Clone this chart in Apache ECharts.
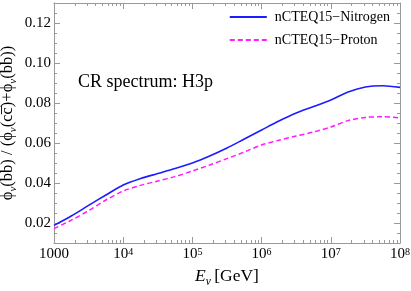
<!DOCTYPE html>
<html>
<head>
<meta charset="utf-8">
<script src="https://cdn.jsdelivr.net/npm/echarts@6/dist/echarts.min.js"></script>
<style>html,body{margin:0;padding:0;background:#fff}#c{width:411px;height:291px}</style>
</head>
<body>
<div id="c"></div>
<script>
// Neutrino energy E_nu [GeV] (half-decade sampling)
const energies = [1e3, 1.778e3, 3.162e3, 5.623e3, 1e4, 1.778e4, 3.162e4, 5.623e4, 1e5, 1.778e5, 3.162e5, 5.623e5,
  1e6, 1.778e6, 3.162e6, 5.623e6, 1e7, 1.778e7, 3.162e7, 5.623e7, 1e8];
const nitrogen = [0.0188, 0.0235, 0.0288, 0.0340, 0.0390, 0.0422, 0.0447, 0.0472, 0.0500, 0.0535, 0.0575, 0.0620,
  0.0665, 0.0710, 0.0750, 0.0782, 0.0815, 0.0855, 0.0880, 0.0886, 0.0878];
const proton = [0.0172, 0.0214, 0.0262, 0.0315, 0.0360, 0.0388, 0.0410, 0.0432, 0.0460, 0.0490, 0.0522, 0.0555,
  0.0590, 0.0614, 0.0635, 0.0655, 0.0680, 0.0712, 0.0728, 0.0731, 0.0726];
const xMajorTicks = [1e3, 1e4, 1e5, 1e6, 1e7, 1e8];
const xTickLabels = ['1000', '10{sup|4}', '10{sup|5}', '10{sup|6}', '10{sup|7}', '10{sup|8}'];
const yMajorTicks = [0.02, 0.04, 0.06, 0.08, 0.10, 0.12];
const yTickLabels = ['0.02', '0.04', '0.06', '0.08', '0.10', '0.12'];
const seriesNames = ['nCTEQ15\u2212Nitrogen', 'nCTEQ15\u2212Proton'];
const annotation = 'CR spectrum: H3p';

const xMinorTicks = [];
for (let d = 1e3; d < 1e8; d *= 10) for (let k = 2; k <= 9; k++) xMinorTicks.push(d * k);
const yMinorTicks = [];
for (let i = 3; i <= 25; i++) { const v = +(i * 0.005).toFixed(3); if (!yMajorTicks.some(m => Math.abs(m - v) < 1e-9)) yMinorTicks.push(v); }

const FONT = '"Liberation Serif", "DejaVu Serif", serif';
const FRAME = '#999999';

function xAx(grid, pos, ticks, len, showLine, showLabel) {
  return {
    gridIndex: grid, type: 'log', logBase: 10, min: 1e3, max: 1e8, position: pos,
    axisLine: { show: showLine, onZero: false, lineStyle: { color: FRAME, width: 1 } },
    axisTick: { show: true, inside: true, length: len, customValues: ticks, lineStyle: { color: FRAME } },
    axisLabel: showLabel ? {
      show: true, customValues: xMajorTicks, margin: 4, color: '#000', fontFamily: FONT, fontSize: 15,
      formatter: v => xTickLabels[xMajorTicks.findIndex(m => Math.abs(Math.log10(m) - Math.log10(v)) < 1e-6)],
      rich: { sup: { fontSize: 10, fontFamily: FONT, color: '#000', verticalAlign: 'top', lineHeight: 10, padding: [0, 0, 6, 0] } }
    } : { show: false },
    splitLine: { show: false }
  };
}
function yAx(grid, pos, ticks, len, showLine, showLabel) {
  return {
    gridIndex: grid, type: 'value', min: 0.01, max: 0.13, position: pos,
    axisLine: { show: showLine, onZero: false, lineStyle: { color: FRAME, width: 1 } },
    axisTick: { show: true, inside: true, length: len, customValues: ticks, lineStyle: { color: FRAME } },
    axisLabel: showLabel ? {
      show: true, customValues: yMajorTicks, margin: 3, color: '#000', fontFamily: FONT, fontSize: 15,
      formatter: v => yTickLabels[yMajorTicks.findIndex(m => Math.abs(m - v) < 1e-9)]
    } : { show: false },
    splitLine: { show: false }
  };
}

const xAxes = [xAx(0, 'bottom', xMajorTicks, 6, true, true), xAx(0, 'top', xMajorTicks, 6, true, false),
  xAx(1, 'bottom', xMinorTicks, 3, false, false), xAx(1, 'top', xMinorTicks, 3, false, false)];
const yAxes = [yAx(0, 'left', yMajorTicks, 6, true, true), yAx(0, 'right', yMajorTicks, 6, true, false),
  yAx(1, 'left', yMinorTicks, 3, false, false), yAx(1, 'right', yMinorTicks, 3, false, false)];

xAxes[0].name = '{it|E}{sub|\u03BD} {n|[GeV]}';
xAxes[0].nameLocation = 'middle';
xAxes[0].nameGap = 27;
xAxes[0].nameMoveOverlap = false;
xAxes[0].nameTextStyle = {
  rich: {
    it: { fontFamily: FONT, fontStyle: 'italic', fontSize: 17.5, color: '#000', verticalAlign: 'bottom', lineHeight: 18, padding: [0, 0, 3, 0] },
    sub: { fontFamily: FONT, fontStyle: 'italic', fontSize: 11.5, color: '#000', verticalAlign: 'bottom', lineHeight: 12 },
    n: { fontFamily: FONT, fontSize: 17.5, color: '#000', verticalAlign: 'bottom', lineHeight: 18, padding: [0, 0, 3, 0] }
  }
};
yAxes[0].name = '{m|\u03D5}{s|\u03BD}{m|(bb\u0305) / (\u03D5}{s|\u03BD}{m|(cc\u0305)+\u03D5}{s|\u03BD}{m|(bb\u0305))}';
yAxes[0].nameLocation = 'middle';
yAxes[0].nameGap = 35;
yAxes[0].nameMoveOverlap = false;
yAxes[0].nameTextStyle = {
  rich: {
    m: { fontFamily: FONT, fontSize: 16.5, color: '#000', verticalAlign: 'bottom', lineHeight: 17, padding: [0, 0, 3, 0] },
    s: { fontFamily: FONT, fontStyle: 'italic', fontSize: 11, color: '#000', verticalAlign: 'bottom', lineHeight: 11 }
  }
};

const gridBox = { left: 54, right: 11, top: 3, bottom: 48, containLabel: false, outerBoundsMode: 'none' };
const chart = echarts.init(document.getElementById('c'), null, { renderer: 'canvas' });
chart.setOption({
  animation: false,
  backgroundColor: '#fff',
  grid: [Object.assign({}, gridBox), Object.assign({}, gridBox)],
  xAxis: xAxes,
  yAxis: yAxes,
  legend: {
    orient: 'vertical', right: 21, top: 10, padding: 0, itemGap: 9, itemWidth: 37, itemHeight: 14,
    itemStyle: { opacity: 0 },
    textStyle: { fontFamily: FONT, fontSize: 14, color: '#000', padding: [0, 0, 0, 3] },
    data: seriesNames
  },
  graphic: [{ type: 'text', left: 78, top: 73, style: { text: annotation, font: '18px "Liberation Serif", serif', fill: '#000' } }],
  series: [
    { name: seriesNames[0], type: 'line', xAxisIndex: 0, yAxisIndex: 0, symbol: 'none', smooth: 0.3,
      data: energies.map((e, i) => [e, nitrogen[i]]), lineStyle: { color: '#1c1cff', width: 1.6 }, itemStyle: { color: '#1c1cff' } },
    { name: seriesNames[1], type: 'line', xAxisIndex: 0, yAxisIndex: 0, symbol: 'none', smooth: 0.3,
      data: energies.map((e, i) => [e, proton[i]]), lineStyle: { color: '#ff1aff', width: 1.5, type: [5, 3] }, itemStyle: { color: '#ff1aff' } }
  ]
});
</script>
</body>
</html>
